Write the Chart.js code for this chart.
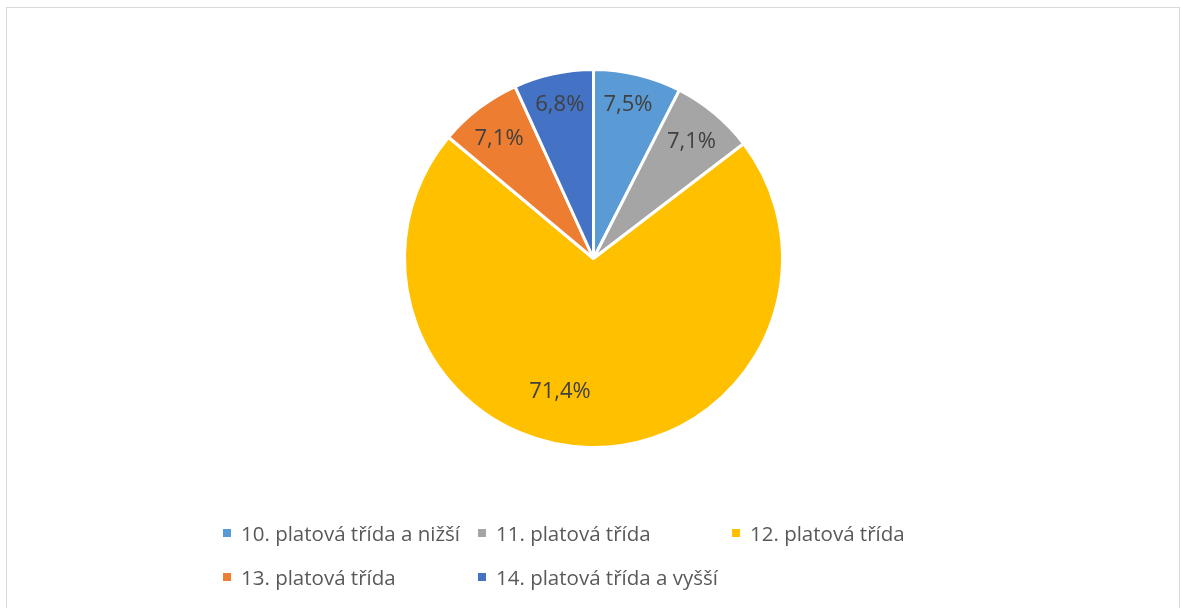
<!DOCTYPE html>
<html>
<head>
<meta charset="utf-8">
<script src="https://cdn.jsdelivr.net/npm/chart.js@4"></script>
<style>
  html, body { margin: 0; padding: 0; background: #fff; }
  body { width: 1182px; height: 608px; position: relative; overflow: hidden; font-family: "Open Sans", Lato, sans-serif; }
  #frame { position: absolute; left: 6px; top: 7px; width: 1174px; height: 620px; border: 1px solid #d9d9d9; box-sizing: border-box; }
  #wrap { position: absolute; left: 0; top: 0; width: 1182px; height: 608px; }
  .lg { position: absolute; height: 26px; display: flex; align-items: center; white-space: nowrap; color: #595959; font-size: 20.5px; }
  .lg i { display: inline-block; width: 8px; height: 8px; margin-right: 10px; }
</style>
</head>
<body>
<div id="frame"></div>
<div id="wrap"><canvas id="c" width="1182" height="608"></canvas></div>
<div id="legend"></div>
<script>
const categories = ["10. platová třída a nižší", "11. platová třída", "12. platová třída", "13. platová třída", "14. platová třída a vyšší"];
const shares = [7.5, 7.1, 71.4, 7.1, 6.8];
const sliceColors = ["#5B9BD5", "#A5A5A5", "#FFC000", "#ED7D31", "#4472C4"];

// label placement: radius fraction and angle nudge (degrees) per slice
const labelPlacement = [
  { r: 0.84, da: -1 },
  { r: 0.81, da: 0 },
  { r: 0.72, da: 13 },
  { r: 0.81, da: -0.8 },
  { r: 0.84, da: 0 }
];

const pieLabels = {
  id: 'pieLabels',
  afterDatasetsDraw(chart) {
    const ctx = chart.ctx;
    const meta = chart.getDatasetMeta(0);
    ctx.save();
    ctx.font = '22px "Open Sans", Lato, sans-serif';
    ctx.fillStyle = '#404040';
    ctx.textAlign = 'center';
    ctx.textBaseline = 'middle';
    meta.data.forEach((arc, i) => {
      const p = arc.getProps(['x', 'y', 'startAngle', 'endAngle', 'outerRadius']);
      const pl = labelPlacement[i];
      const a = (p.startAngle + p.endAngle) / 2 + pl.da * Math.PI / 180;
      const r = p.outerRadius * pl.r;
      const txt = shares[i].toFixed(1).replace('.', ',') + '%';
      ctx.fillText(txt, p.x + Math.cos(a) * r, p.y + Math.sin(a) * r + 1);
    });
    ctx.restore();
  }
};

const chart = new Chart(document.getElementById('c'), {
  type: 'pie',
  data: {
    labels: categories,
    datasets: [{
      data: shares,
      backgroundColor: sliceColors,
      borderColor: '#ffffff',
      borderWidth: 3
    }]
  },
  options: {
    responsive: false,
    animation: false,
    layout: { padding: { left: 403, right: 398, top: 68, bottom: 159 } },
    plugins: {
      legend: { display: false },
      tooltip: { enabled: false }
    }
  },
  plugins: [pieLabels]
});

// HTML legend built from chart data
const legendCols = [223, 478, 732];
const legendRows = [533, 577];
const lg = document.getElementById('legend');
categories.forEach((name, i) => {
  const d = document.createElement('div');
  d.className = 'lg';
  d.style.left = legendCols[i % 3] + 'px';
  d.style.top = (legendRows[Math.floor(i / 3)] - 13) + 'px';
  const m = document.createElement('i');
  m.style.background = sliceColors[i];
  d.appendChild(m);
  d.appendChild(document.createTextNode(name));
  lg.appendChild(d);
});
</script>
</body>
</html>
